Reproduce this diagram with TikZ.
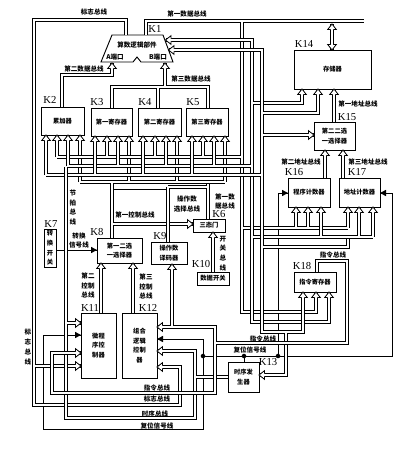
\documentclass[tikz,border=0pt]{standalone}
\usepackage{fontspec}
\setmainfont{Liberation Serif}
\newfontfamily\cjk{Noto Sans CJK SC}
\def\ux{0.75pt}
\tikzset{
  x=0.75pt,y=-0.75pt,
  box/.style={draw,line width=.7pt,inner sep=0pt,outer sep=0pt,align=center,font=\cjk\bfseries\fontsize{4.7}{7.2}\selectfont},
  lab/.style={inner sep=0pt,align=center,font=\cjk\bfseries\fontsize{4.9}{7.3}\selectfont},
  klab/.style={inner sep=0pt,font=\fontsize{8}{9}\selectfont},
  bus/.style={draw,line width=.6pt,double=white,double distance=1.45pt,line join=miter},
  tipst/.style={fill=white,draw=black,line width=.6pt,line join=miter},
  wire/.style={draw,line width=.65pt},
  dotn/.style={circle,fill=black,inner sep=0pt,minimum size=3.4pt},
}
\newcommand\bx[6]{\node[box,minimum width={(#4-#2)*\ux},minimum height={(#5-#3)*\ux}] (#1) at ({(#2+#4)/2},{(#3+#5)/2}) {#6};}
\newcommand\tipU[1]{\draw[tipst,shift={(#1)}] (-1.35,5.5)--(-4.3,5.5)--(0,0)--(4.3,5.5)--(1.35,5.5);}
\newcommand\tipD[1]{\draw[tipst,shift={(#1)}] (-1.35,-5.5)--(-4.3,-5.5)--(0,0)--(4.3,-5.5)--(1.35,-5.5);}
\newcommand\tipL[1]{\draw[tipst,shift={(#1)}] (5.5,-1.35)--(5.5,-4.3)--(0,0)--(5.5,4.3)--(5.5,1.35);}
\newcommand\tipR[1]{\draw[tipst,shift={(#1)}] (-5.5,-1.35)--(-5.5,-4.3)--(0,0)--(-5.5,4.3)--(-5.5,1.35);}
\newcommand\tipS[1]{\fill[shift={(#1)}] (0,0)--(-6,-3.2)--(-6,3.2)--cycle;}
\begin{document}
\begin{tikzpicture}
\useasboundingbox (0,0) rectangle (410,450);
% boxes
\bx{kb}{41}{107}{84}{135}{累加器}
\bx{kc}{91}{108}{132}{136}{第一寄存器}
\bx{kd}{138}{108}{181}{136}{第二寄存器}
\bx{ke}{186}{108}{228}{136}{第三寄存器}
\bx{kn}{294}{50}{371}{89}{存储器}
\bx{ko}{314}{122}{355}{150}{第二二选\\一选择器}
\bx{kp}{288}{178}{330}{207}{程序计数器}
\bx{kq}{339}{178}{380}{207}{地址计数器}
\bx{kr}{294}{272}{336}{292}{指令寄存器}
\bx{kf}{193}{219}{225}{232}{三态门}
\bx{kg}{44}{229}{56}{267}{转\\换\\开\\关}
\bx{kh}{97}{238}{142}{263}{第一二选\\一选择器}
\bx{ki}{151}{242}{187}{264}{操作数\\译码器}
\bx{kj}{197}{272}{229}{285}{数据开关}
\bx{kk}{81}{313}{116}{378}{微程\\序控\\制器}
\bx{kl}{122}{313}{157}{378}{组合\\逻辑\\控制\\器}
\bx{km}{228}{362}{259}{392}{时序发\\生器}
% ALU
\coordinate (aluA) at (112,63);
\coordinate (aluB) at (165,63);
\draw[line width=.7pt,line join=miter] (112,35)--(163,35)--(173,62)--(141,62)--(137,57)--(133,62)--(101,62)--cycle;
\node[lab] (alut) at (137,45) {算数逻辑部件};
\node[lab] (alua) at (115,57) {A端口};
\node[lab] (alub) at (158,57) {B端口};
% single wires
\draw[wire] (kg.east |- 0,250) -- (kh.west |- 0,250);
\draw[wire] (kk.west |- 0,335) -- (43,335) -- (43,429) -- (203,429) -- (203,339) -- (kl.east |- 0,339);
\draw[wire] (203,356) -- (392,356) -- (392,193) -- (kq.east |- 0,193);
\draw[wire] (278,356) -- (278,193) -- (kp.west |- 0,193);
\draw[wire] (244,356) -- (km.north -| 244,0);
\draw[wire] (112,189) -- (168,189);
% nets
% flag bus
\path[bus] (126,35)--(126,20)--(34,20)--(34,405)--(180,405)--(180,367)--(kl.east |- 0,367)
  (34,366)--(kk.west |- 0,366);
% row D
\path[bus] (80,182)--(225,182)
  foreach \x/\n in {80/kb,129/kc,177/kd,225/ke} {(\x,182)--(\x,0 |- \n.south)}
  (112,182)--(112,0 |- kh.north) (112,224)--(kf.west |- 0,224);
\path[bus] (168,187)--(168,0 |- ki.north) (208,184)--(208,0 |- kf.north) (168,187)--(208,187);
% data net 1
\path[bus] (146,35)--(146,21)--(364,21) (242,21)--(242,312)--(316,312)--(316,0 |- kr.south)
  (57,157)--(242,157)
  foreach \x/\n in {57/kb,107/kc,155/kd,203/ke} {(\x,157)--(\x,0 |- \n.south)}
  (242,228)--(348,228)
  foreach \x/\n in {296/kp,308/kp,348/kq} {(\x,228)--(\x,0 |- \n.south)};
% data net 2
\path[bus] (166,40)--(252,40)--(252,322)--(329,322)--(329,0 |- kr.south)
  (68,166)--(252,166)
  foreach \x/\n in {68/kb,118/kc,166/kd,214/ke} {(\x,166)--(\x,0 |- \n.south)}
  (252,103)--(302,103)--(302,0 |- kn.south)
  (252,237)--(373,237)
  foreach \x/\n in {321/kp,359/kq,373/kq} {(\x,237)--(\x,0 |- \n.south)};
% data net 3
\path[bus] (169,50)--(262,50)--(262,332)--(303,332)--(303,0 |- kr.south)
  (46,175)--(262,175)
  foreach \x/\n in {46/kb,95/kc,143/kd,192/ke} {(\x,175)--(\x,0 |- \n.south)}
  (262,113)--(318,113)--(318,0 |- kn.south)
  (262,135)--(ko.west |- 0,135)
  (262,247)--(348,247)--(348,239)
  (286,332)--(286,375)--(km.east |- 0,375);
% timing bus
\path[bus] (66,167)--(66,418)--(195,418)--(195,351)--(kl.east |- 0,351)
  (66,323)--(kk.west |- 0,323)
  (195,377)--(km.west |- 0,377);
% instruction bus
\path[bus] (172,0 |- ki.south)--(172,327)--(215,327)--(215,393)--(52,393)--(52,353)--(kk.west |- 0,353)
  (172,327)--(kl.east |- 0,327)
  (215,343)--(347,343)--(347,261)--(317,261)--(317,0 |- kr.north);
% data bus branches
\path[bus] (62,0 |- kb.north)--(62,75)--(112,75)--(aluA);
\path[bus] (112,0 |- kc.north)--(112,87)--(158,87)--(158,0 |- kd.north)
  (158,87)--(208,87)--(208,0 |- ke.north) (165,87)--(aluB);
\path[bus] (334,0 |- ko.north)--(334,0 |- kn.south);
\path[bus] (325,0 |- kp.north)--(325,0 |- ko.south) (343,0 |- kq.north)--(343,0 |- ko.south);
\path[bus] (101,0 |- kk.north)--(101,0 |- kh.south);
\path[bus] (133,0 |- kl.north)--(133,0 |- kh.south);
\path[bus] (213,0 |- kj.north)--(213,0 |- kf.south);
\path[bus] (332,24)--(332,0 |- kn.north);
% hollow tips
\foreach \x/\n in {46/kb,57/kb,68/kb,80/kb,95/kc,107/kc,118/kc,129/kc,143/kd,155/kd,166/kd,177/kd,192/ke,203/ke,214/ke,225/ke,296/kp,308/kp,321/kp,348/kq,359/kq,373/kq,303/kr,316/kr,329/kr,302/kn,318/kn,334/kn,325/ko,343/ko}
  {\tipU{\x,0 |- \n.south}}
\tipU{112,63} \tipU{165,63} \tipU{101,0 |- kh.south} \tipU{133,0 |- kh.south} \tipU{172,0 |- ki.south} \tipU{213,0 |- kf.south}
\tipL{165.5,40} \tipL{168.5,50}
\tipR{ko.west |- 0,135} \tipR{kf.west |- 0,224}
\foreach \y in {323,353,366} {\tipR{kk.west |- 0,\y}}
\foreach \y in {327,351,367} {\tipL{kl.east |- 0,\y}}
\tipL{km.east |- 0,375}
\tipU{332,24} \tipD{332,0 |- kn.north}
% solid tips
\tipS{kh.west |- 0,250}
\tipS{kk.west |- 0,335}
\tipS{kp.west |- 0,193}
\fill[shift={(kq.east |- 0,193)}] (0,0)--(6,-3.2)--(6,3.2)--cycle;
\fill[shift={(kl.east |- 0,339)}] (0,0)--(6,-3.2)--(6,3.2)--cycle;
\node[dotn] (d1) at (203,356) {};
\node[dotn] (d2) at (244,356) {};
\node[dotn] (d3) at (278,356) {};
% K labels
\foreach \n/\t/\x/\y in {a/K1/155/29,b/K2/50/100,c/K3/97/102,d/K4/145/102,e/K5/193/102,f/K6/219/214,g/K7/51/224,h/K8/97/232,i/K9/160/236,j/K10/201/264,k/K11/90/308,l/K12/148/308,m/K13/268/362,n/K14/304/44,o/K15/347/117,p/K16/294/172,q/K17/357/172,r/K18/302/266}
  {\node[klab] (t\n) at (\x,\y) {\t};}
% bus labels
\node[lab] (l1) at (94,12) {标志总线};
\node[lab] (l2) at (187,14) {第一数据总线};
\node[lab] (l3) at (84,69) {第二数据总线};
\node[lab] (l4) at (191,79) {第三数据总线};
\node[lab] (l5) at (358,104) {第一地址总线};
\node[lab] (l6) at (301,162) {第二地址总线};
\node[lab] (l7) at (368,162) {第三地址总线};
\node[lab] (l8) at (225,201.5) {第一数\\据总线};
\node[lab] (l9) at (187,204) {操作数\\选择总线};
\node[lab] (l10) at (135,215) {第一控制总线};
\node[lab] (l11) at (73,207.5) {节\\拍\\总\\线};
\node[lab] (l12) at (79,240.5) {转换\\信号线};
\node[lab] (l13) at (88,285.5) {第二\\控制\\总线};
\node[lab] (l14) at (146,286.5) {第三\\控制\\总线};
\node[lab] (l15) at (223,253.5) {开\\关\\总\\线};
\node[lab] (l16) at (333,255) {指令总线};
\node[lab] (l17) at (263,339) {指令总线};
\node[lab] (l18) at (250,350) {复位信号线};
\node[lab] (l19) at (28,347) {标\\志\\总\\线};
\node[lab] (l20) at (157,388) {指令总线};
\node[lab] (l21) at (157,399) {标志总线};
\node[lab] (l22) at (155,414) {时序总线};
\node[lab] (l23) at (157,426) {复位信号线};
\end{tikzpicture}
\end{document}
